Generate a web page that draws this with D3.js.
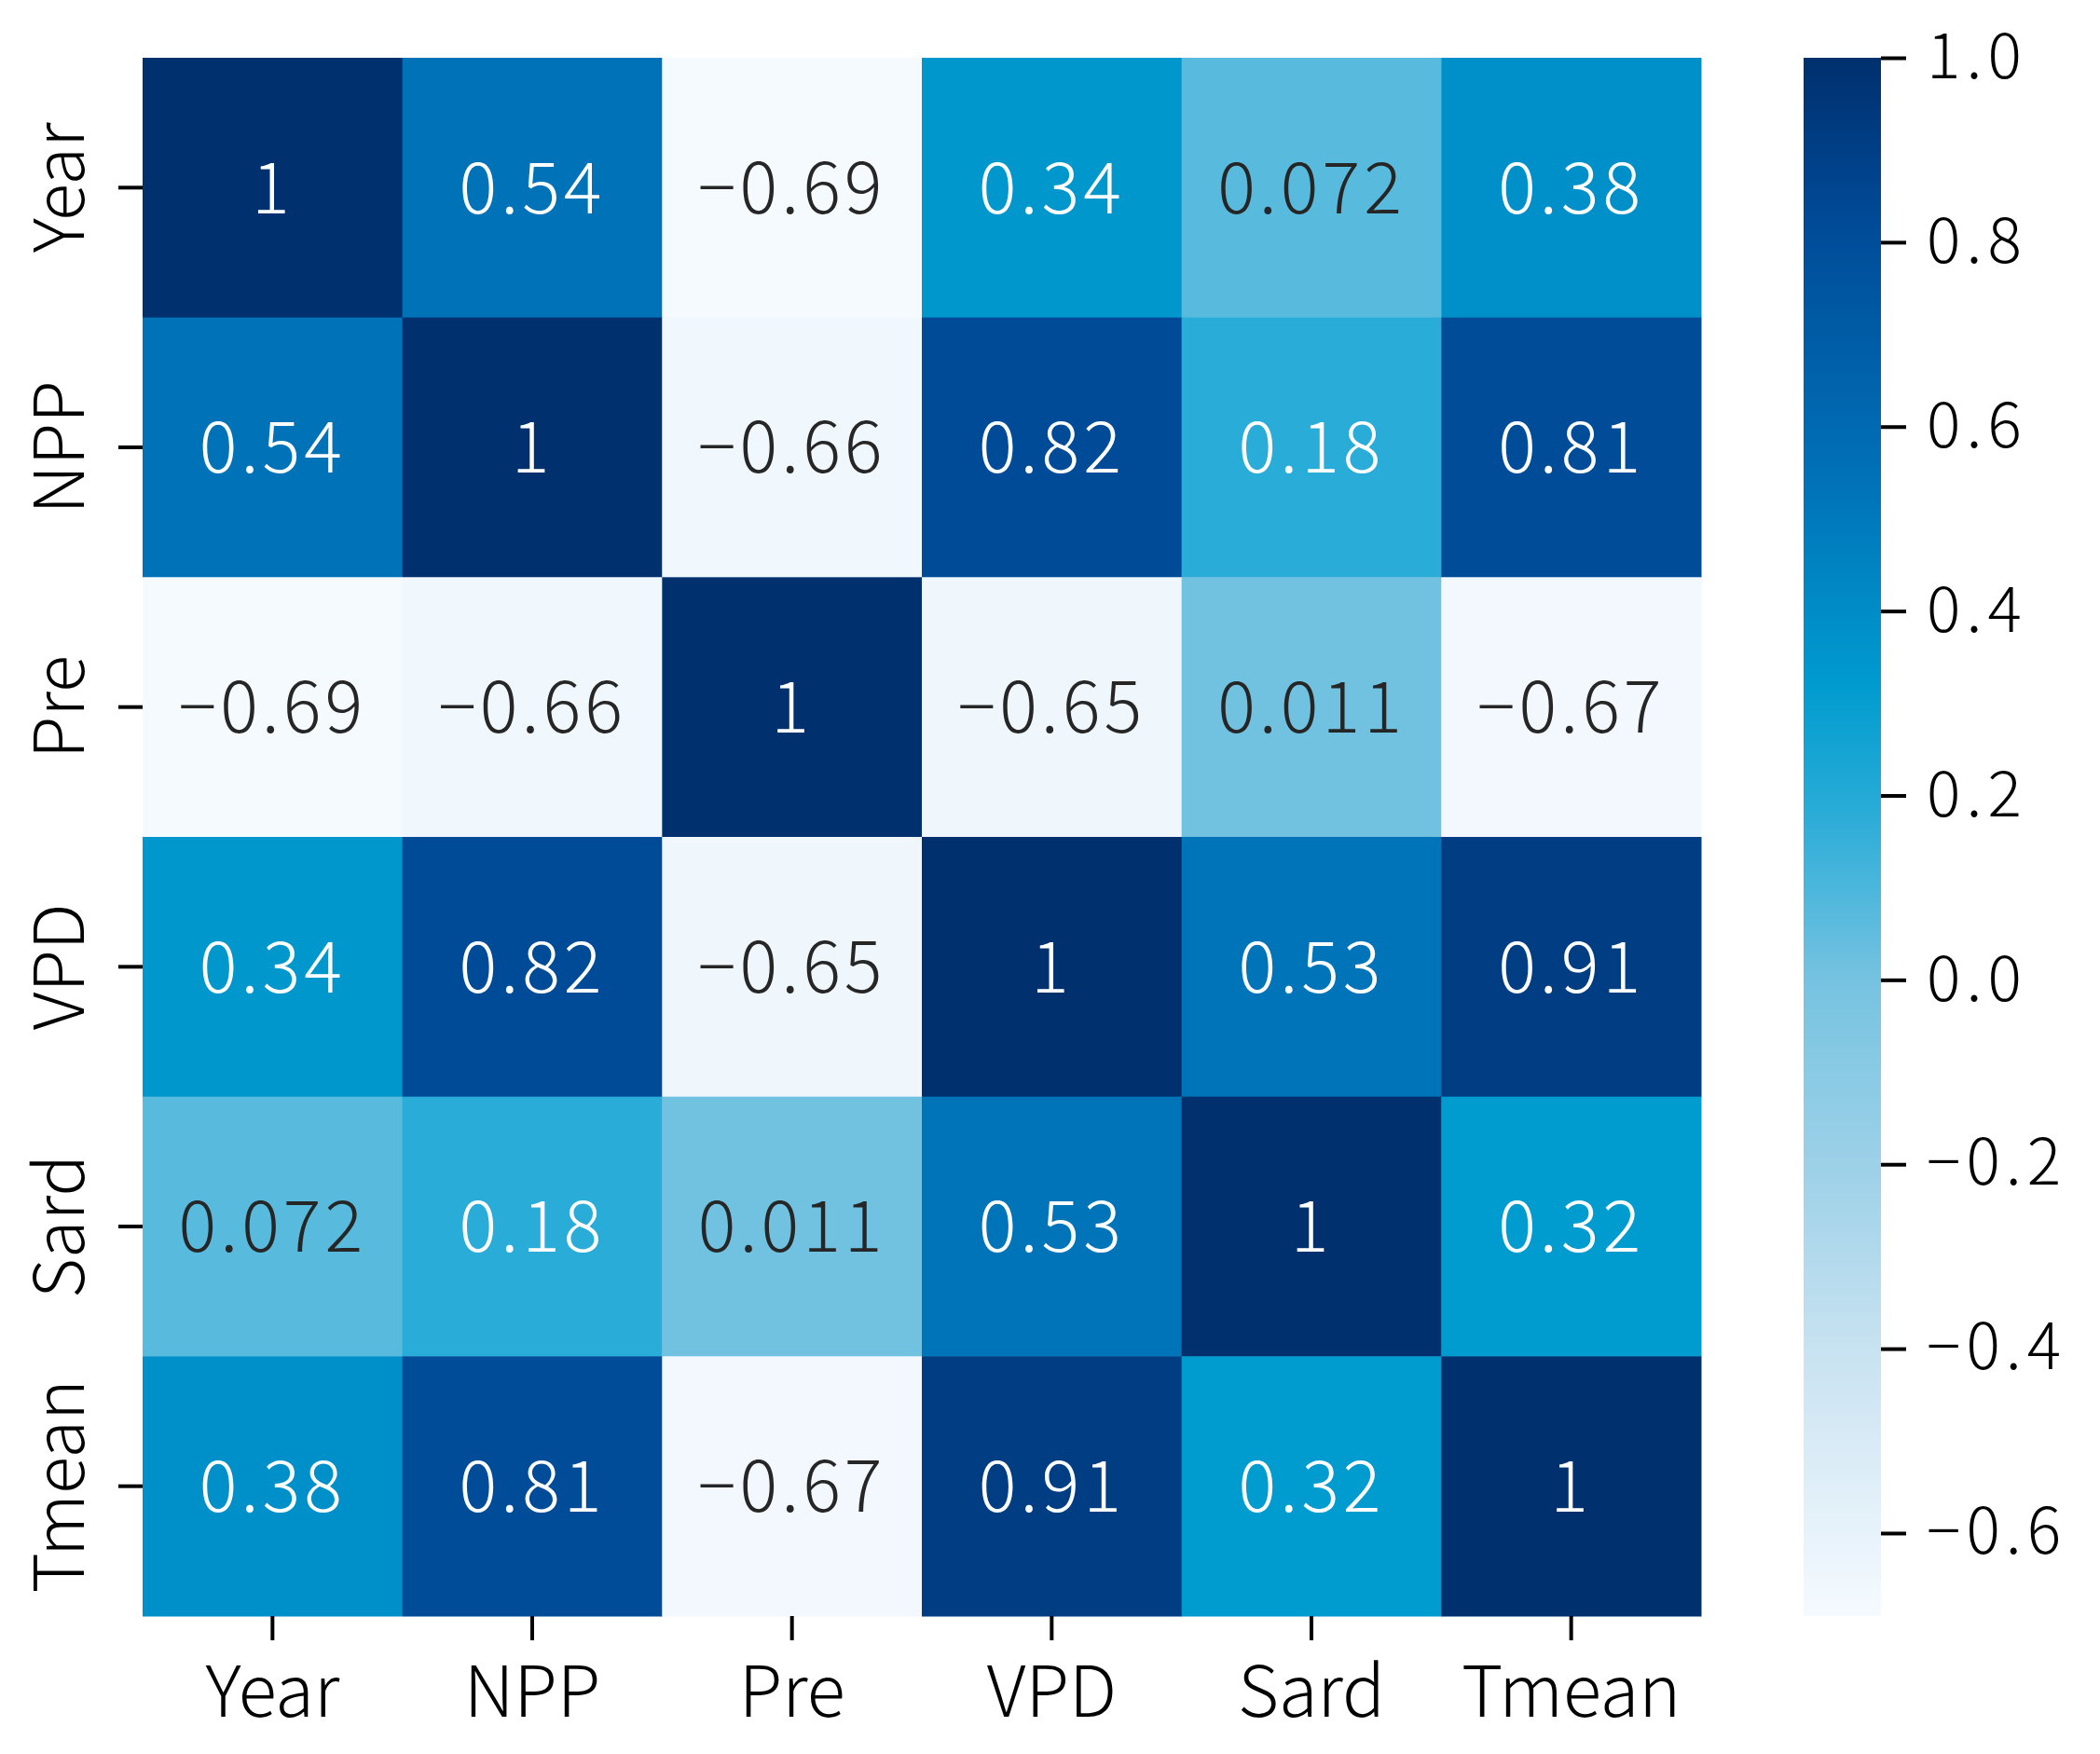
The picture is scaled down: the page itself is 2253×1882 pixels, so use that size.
<!DOCTYPE html>
<html>
<head>
<meta charset="utf-8">
<script src="https://cdn.jsdelivr.net/npm/d3@7"></script>
<style>
  body { margin: 0; background: #fff; }
  text { font-family: "Noto Sans CJK SC", "Noto Sans", sans-serif; font-weight: 300; }
</style>
</head>
<body>
<div id="chart"></div>
<script>
// variables (same order on both axes)
var variables = ['Year', 'NPP', 'Pre', 'VPD', 'Sard', 'Tmean'];

// correlation matrix, one row per variable
var rowYear  = [1,     0.54,  -0.69, 0.34,  0.072, 0.38];
var rowNPP   = [0.54,  1,     -0.66, 0.82,  0.18,  0.81];
var rowPre   = [-0.69, -0.66, 1,     -0.65, 0.011, -0.67];
var rowVPD   = [0.34,  0.82,  -0.65, 1,     0.53,  0.91];
var rowSard  = [0.072, 0.18,  0.011, 0.53,  1,     0.32];
var rowTmean = [0.38,  0.81,  -0.67, 0.91,  0.32,  1];

// labels as printed in each cell
var labYear  = ['1', '0.54', '-0.69', '0.34', '0.072', '0.38'];
var labNPP   = ['0.54', '1', '-0.66', '0.82', '0.18', '0.81'];
var labPre   = ['-0.69', '-0.66', '1', '-0.65', '0.011', '-0.67'];
var labVPD   = ['0.34', '0.82', '-0.65', '1', '0.53', '0.91'];
var labSard  = ['0.072', '0.18', '0.011', '0.53', '1', '0.32'];
var labTmean = ['0.38', '0.81', '-0.67', '0.91', '0.32', '1'];

var colorbarTicks = [-0.6, -0.4, -0.2, 0.0, 0.2, 0.4, 0.6, 0.8, 1.0];

var matrix = [rowYear, rowNPP, rowPre, rowVPD, rowSard, rowTmean];
var labels = [labYear, labNPP, labPre, labVPD, labSard, labTmean];

var width = 2253,
    height = 1882,
    mLeft = 153, mTop = 62,
    side = 1672,
    cbLeft = 1935, cbWidth = 83;

var vmin = d3.min(matrix, function(r) { return d3.min(r); }),
    vmax = d3.max(matrix, function(r) { return d3.max(r); });

// blue colormap, stops picked off the colorbar
var color = d3.scaleLinear()
  .domain([-0.69, -0.4, -0.2, 0.0, 0.18, 0.32, 0.54, 0.82, 1.0])
  .range(['#f5faff', '#c8e2f1', '#9cd1e8', '#76c3e0', '#2aacd8', '#009bcf', '#0072b8', '#004b98', '#00306e'])
  .interpolate(d3.interpolateRgb)
  .clamp(true);

function lum(c) {
  var rgb = d3.rgb(c);
  var f = function(v) { v = v / 255; return v <= 0.03928 ? v / 12.92 : Math.pow((v + 0.055) / 1.055, 2.4); };
  return 0.2126 * f(rgb.r) + 0.7152 * f(rgb.g) + 0.0722 * f(rgb.b);
}

var svg = d3.select('#chart').append('svg')
  .attr('width', width)
  .attr('height', height);

svg.append('rect').attr('width', width).attr('height', height).attr('fill', '#fff');

var x = d3.scaleBand().domain(variables).range([mLeft, mLeft + side]);
var y = d3.scaleBand().domain(variables).range([mTop, mTop + side]);

var cells = [];
matrix.forEach(function(row, i) {
  row.forEach(function(v, j) {
    cells.push({ r: variables[i], c: variables[j], v: v, label: labels[i][j] });
  });
});

svg.append('g').selectAll('rect')
  .data(cells)
  .enter()
  .append('rect')
  .attr('x', function(d) { return x(d.c); })
  .attr('y', function(d) { return y(d.r); })
  .attr('width', x.bandwidth() + 0.5)
  .attr('height', y.bandwidth() + 0.5)
  .attr('fill', function(d) { return color(d.v); });

svg.append('g').selectAll('text')
  .data(cells)
  .enter()
  .append('text')
  .attr('x', function(d) { return x(d.c) + x.bandwidth() / 2; })
  .attr('y', function(d) { return y(d.r) + y.bandwidth() / 2; })
  .attr('dy', '0.36em')
  .attr('text-anchor', 'middle')
  .style('font-size', '76px')
  .style('letter-spacing', '4px')
  .attr('fill', function(d) { return lum(color(d.v)) < 0.408 ? '#ffffff' : '#262626'; })
  .text(function(d) { return d.label.replace('-', '\u2212'); });

// x axis
var xAxisGroup = svg.append('g')
  .attr('transform', 'translate(0,' + (mTop + side) + ')')
  .call(d3.axisBottom(x).tickSize(26).tickPadding(28));
xAxisGroup.select('.domain').remove();
xAxisGroup.selectAll('line').attr('stroke', '#000').attr('stroke-width', 4);
xAxisGroup.selectAll('text')
  .style('font-size', '76px')
  .attr('fill', '#000');

// y axis, labels turned upright
var yAxisGroup = svg.append('g')
  .attr('transform', 'translate(' + mLeft + ',0)')
  .call(d3.axisLeft(y).tickSize(26));
yAxisGroup.select('.domain').remove();
yAxisGroup.selectAll('line').attr('stroke', '#000').attr('stroke-width', 4);
yAxisGroup.selectAll('text')
  .attr('transform', 'rotate(-90)')
  .attr('x', 0)
  .attr('y', -63)
  .attr('dy', 0)
  .attr('text-anchor', 'middle')
  .style('font-size', '74px')
  .attr('fill', '#000');

// colorbar
var cScale = d3.scaleLinear().domain([vmin, vmax]).range([mTop + side, mTop]);

var grad = svg.append('defs').append('linearGradient')
  .attr('id', 'cbar')
  .attr('x1', 0).attr('y1', 1).attr('x2', 0).attr('y2', 0);
d3.range(0, 1.0001, 0.02).forEach(function(t) {
  grad.append('stop')
    .attr('offset', t)
    .attr('stop-color', color(vmin + t * (vmax - vmin)));
});

svg.append('rect')
  .attr('x', cbLeft)
  .attr('y', mTop)
  .attr('width', cbWidth)
  .attr('height', side)
  .attr('fill', 'url(#cbar)');

var cAxisGroup = svg.append('g')
  .attr('transform', 'translate(' + (cbLeft + cbWidth) + ',0)')
  .call(d3.axisRight(cScale).tickValues(colorbarTicks).tickFormat(d3.format('.1f')).tickSize(27).tickPadding(22));
cAxisGroup.select('.domain').remove();
cAxisGroup.selectAll('line').attr('stroke', '#000').attr('stroke-width', 4);
cAxisGroup.selectAll('text')
  .style('font-size', '68px')
  .style('letter-spacing', '6px')
  .attr('fill', '#000');
</script>
</body>
</html>
